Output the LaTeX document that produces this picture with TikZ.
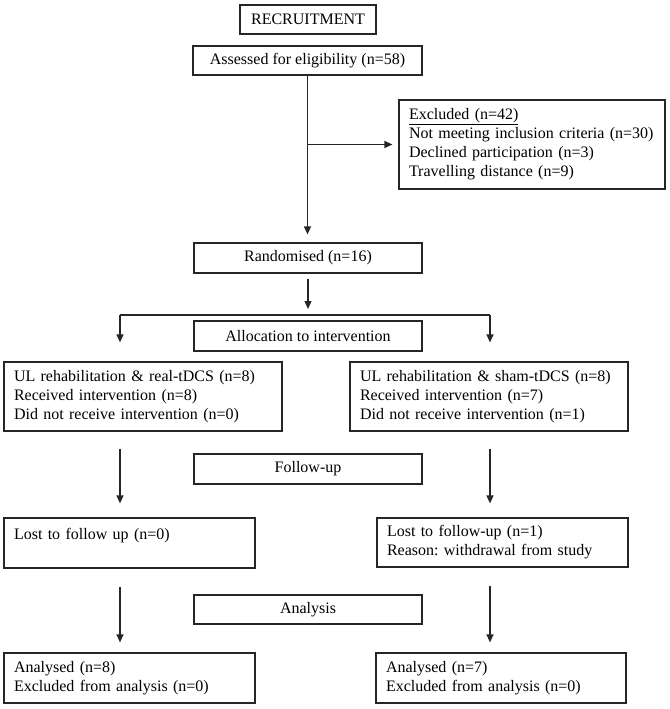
\documentclass[tikz,border=0pt]{standalone}
\usepackage{fontspec}
\setmainfont{Liberation Serif}
\usetikzlibrary{arrows.meta}
\begin{document}
\begin{tikzpicture}[x=1pt,y=-1pt,
  ln/.style={draw=black!85, line width=1.2pt},
  arr/.style={ln, -{Triangle[length=8pt,width=7pt]}},
  box/.style={ln, font=\fontsize{16}{19}\selectfont\frenchspacing, inner sep=0pt, align=center},
  tbox/.style={ln, font=\fontsize{16}{19}\selectfont\frenchspacing, inner xsep=10pt, inner ysep=0pt, align=left},
]
\useasboundingbox (0,0) rectangle (669,709);
% single-line boxes
\node[box, minimum width=136pt, minimum height=29pt] (rec) at (308,19.5) {RECRUITMENT};
\node[box, minimum width=229pt, minimum height=29pt] (ass) at (307.5,60.5) {Assessed for eligibility (n=58)};
\node[box, minimum width=228pt, minimum height=30pt] (rand) at (308,258) {Randomised (n=16)};
\node[box, minimum width=228pt, minimum height=30pt] (alloc) at (308,336) {Allocation to intervention};
\node[box, minimum width=228pt, minimum height=30pt] (fu) at (308,469) {Follow-up};
\node[box, minimum width=228pt, minimum height=29pt] (an) at (308,609.5) {Analysis};
% multi-line boxes
\node[tbox, minimum width=266pt, minimum height=89pt, text width=246pt] (exc) at (532,144.5)
  {\underline{Excluded (n=42)}\\\mbox{Not meeting inclusion criteria (n=30)}\\Declined participation (n=3)\\Travelling distance (n=9)};
\node[tbox, minimum width=278pt, minimum height=69pt, text width=258pt] (g1) at (143,396.5)
  {\mbox{UL rehabilitation \& real-tDCS (n=8)}\\Received intervention (n=8)\\Did not receive intervention (n=0)};
\node[tbox, minimum width=278pt, minimum height=69pt, text width=258pt] (g2) at (489,396.5)
  {\mbox{UL rehabilitation \& sham-tDCS (n=8)}\\Received intervention (n=7)\\Did not receive intervention (n=1)};
\node[tbox, minimum width=251pt, minimum height=50pt, text width=231pt] (l1) at (129.5,543)
  {Lost to follow up (n=0)\\\mbox{}};
\node[tbox, minimum width=251pt, minimum height=49pt, text width=231pt] (l2) at (502.5,542.5)
  {Lost to follow-up (n=1)\\Reason: withdrawal from study};
\node[tbox, minimum width=251pt, minimum height=50pt, text width=231pt] (a1) at (129.5,678)
  {Analysed (n=8)\\Excluded from analysis (n=0)};
\node[tbox, minimum width=250pt, minimum height=50pt, text width=230pt] (a2) at (501,678)
  {Analysed (n=7)\\Excluded from analysis (n=0)};
% junction coordinates
\coordinate (colL) at (120,315);
\coordinate (colR) at (490,315);
\coordinate (colM) at (308,315);
% connectors
\draw[arr, shorten >=8pt] (ass.south) -- (ass.south |- rand.north);
\draw[arr, shorten >=6pt] (ass.south |- exc.west) -- (exc.west);
\draw[arr, shorten <=5pt, shorten >=6pt] (rand.south) -- (colM);
\draw[ln] (colL) -- (colR);
\draw[arr, shorten >=19pt] (colL) -- (colL |- g1.north);
\draw[arr, shorten >=19pt] (colR) -- (colR |- g2.north);
\draw[arr, shorten <=17pt, shorten >=14pt] (colL |- g1.south) -- (colL |- l1.north);
\draw[arr, shorten <=17pt, shorten >=14pt] (colR |- g2.south) -- (colR |- l2.north);
\draw[arr, shorten <=18pt, shorten >=10pt] (colL |- l1.south) -- (colL |- a1.north);
\draw[arr, shorten <=18pt, shorten >=10pt] (colR |- l2.south) -- (colR |- a2.north);
\end{tikzpicture}
\end{document}
